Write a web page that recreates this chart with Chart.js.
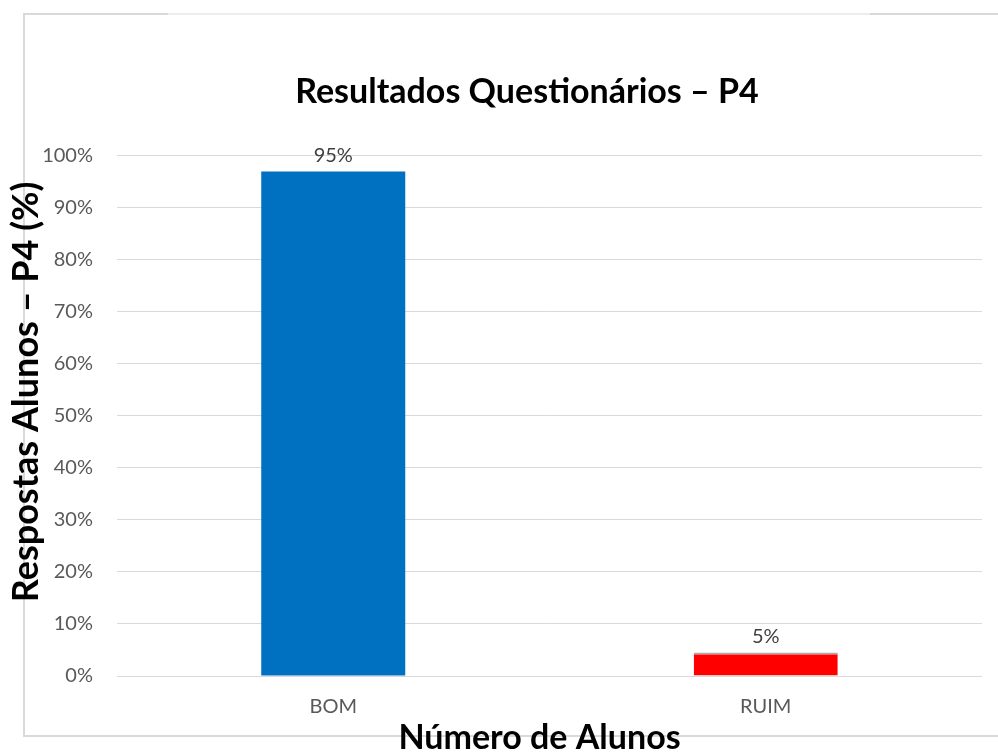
<!DOCTYPE html>
<html>
<head>
<meta charset="utf-8">
<script src="https://cdn.jsdelivr.net/npm/chart.js@4.4.0/dist/chart.umd.min.js"></script>
<style>
  html, body { margin: 0; padding: 0; background: #fff; overflow: hidden; }
  #frame {
    position: absolute; left: 23px; top: 13px; width: 1000px; height: 722px;
    border-left: 2px solid #d9d9d9; border-bottom: 2px solid #d9d9d9;
  }
  #frameTop {
    position: absolute; left: 23px; top: 13px; width: 980px; height: 2px;
    background: linear-gradient(to right, #d9d9d9 0, #d9d9d9 145px, #ececec 145px, #ececec 847px, #d9d9d9 847px);
  }
  #myChart { position: absolute; left: 0; top: 0; }
</style>
</head>
<body>
<div id="frame"></div>
<div id="frameTop"></div>
<canvas id="myChart" width="998" height="754"></canvas>
<script>
const categories = ['BOM', 'RUIM'];
const barValues = [97, 4.5];
const barLabels = ['95%', '5%'];
const barColors = ['#0070C0', '#FF0000'];
const yTicks = [0, 10, 20, 30, 40, 50, 60, 70, 80, 90, 100];

const fontFamily = 'Lato, "Open Sans", sans-serif';

// values above the bars, like excel data labels
const barValueLabels = {
  id: 'barValueLabels',
  afterLayout(chart) {
    // excel centers the titles on the whole frame, not on the plot
    chart.titleBlock.left = 56;
    chart.titleBlock.right = 998;
    // only the axis titles read top/bottom/left/right here, ticks are already configured
    chart.scales.y.top -= 24;
    chart.scales.y.bottom -= 24;
    chart.scales.x.left -= 10;
    chart.scales.x.right -= 10;
  },
  afterDatasetsDraw(chart) {
    const ctx = chart.ctx;
    const meta = chart.getDatasetMeta(0);
    ctx.save();
    ctx.font = '20px ' + fontFamily;
    ctx.fillStyle = '#404040';
    ctx.textAlign = 'center';
    ctx.textBaseline = 'middle';
    meta.data.forEach((bar, i) => {
      ctx.fillText(barLabels[i], bar.x, bar.y - 16);
    });
    ctx.restore();
  }
};

const myChart = document.getElementById('myChart');

new Chart(myChart, {
  type: 'bar',
  data: {
    labels: categories,
    datasets: [{
      data: barValues,
      backgroundColor: barColors,
      borderColor: '#ababab',
      borderWidth: (c) => c.dataIndex === 1 ? {top: 2, left: 0, right: 0, bottom: 0} : 0,
      borderSkipped: false,
      barPercentage: 1,
      categoryPercentage: 0.333,
      clip: false
    }]
  },
  options: {
    responsive: false,
    animation: false,
    layout: { padding: { top: 0, right: 16, bottom: 0, left: 0 } },
    plugins: {
      legend: { display: false },
      tooltip: { enabled: false },
      title: {
        display: true,
        text: 'Resultados Questionários – P4',
        color: '#000',
        font: { family: fontFamily, size: 34, weight: 'bold', lineHeight: 1.2 },
        padding: { top: 72, bottom: 43 }
      }
    },
    scales: {
      x: {
        grid: { display: false, drawTicks: false },
        border: { display: false },
        ticks: {
          color: '#595959',
          font: { family: fontFamily, size: 20 },
          padding: 19
        },
        title: {
          display: true,
          text: 'Número de Alunos',
          color: '#000',
          font: { family: fontFamily, size: 34, weight: 'bold', lineHeight: 1 },
          padding: { top: 0, bottom: -1 }
        },
        afterFit: (scale) => { scale.height = 78; }
      },
      y: {
        min: 0,
        max: 100,
        afterBuildTicks: (scale) => { scale.ticks = yTicks.map(v => ({ value: v })); },
        grid: { color: '#d9d9d9', lineWidth: 1, drawTicks: false },
        border: { display: false },
        ticks: {
          color: '#595959',
          font: { family: fontFamily, size: 20 },
          padding: 24,
          callback: (v) => v + '%'
        },
        title: {
          display: true,
          text: 'Respostas Alunos – P4 (%)',
          color: '#000',
          font: { family: fontFamily, size: 36, weight: 'bold', lineHeight: 1 },
          padding: { top: 8, bottom: 0 }
        },
        afterFit: (scale) => { scale.width = 117; }
      }
    }
  },
  plugins: [barValueLabels]
});
</script>
</body>
</html>
